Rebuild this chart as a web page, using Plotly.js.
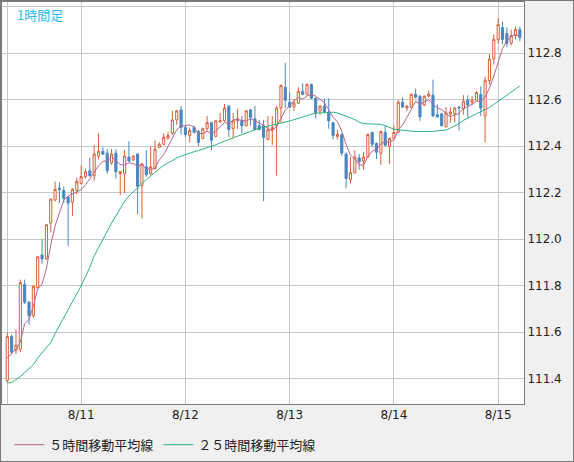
<!DOCTYPE html>
<html>
<head>
<meta charset="utf-8">
<script src="https://cdn.plot.ly/plotly-3.0.1.min.js"></script>
<style>
html,body{margin:0;padding:0;background:#f0f0f0;}
#chart{width:572px;height:460px;border:1px solid #7a7a7a;}
</style>
</head>
<body>
<div id="chart"></div>
<script>
// hourly candles, index 0 = first bar of the week
const open = [111.392,111.581,111.522,111.527,111.805,111.729,111.671,111.792,111.932,111.915,
112.070,112.168,112.219,112.210,112.181,112.159,112.210,112.240,112.269,112.294,
112.273,112.357,112.378,112.370,112.328,112.370,112.282,112.282,112.353,112.341,
112.366,112.231,112.311,112.282,112.303,112.395,112.408,112.433,112.455,112.513,
112.556,112.480,112.446,112.480,112.463,112.433,112.475,112.501,112.442,112.505,
112.509,112.572,112.475,112.509,112.509,112.488,112.556,112.518,112.488,112.488,
112.429,112.471,112.488,112.564,112.653,112.589,112.568,112.585,112.636,112.623,
112.665,112.606,112.551,112.572,112.547,112.501,112.442,112.450,112.366,112.256,
112.286,112.349,112.336,112.353,112.459,112.412,112.370,112.459,112.400,112.433,
112.459,112.589,112.564,112.568,112.623,112.615,112.577,112.615,112.619,112.535,
112.539,112.484,112.539,112.539,112.568,112.560,112.598,112.589,112.598,112.623,
112.530,112.682,112.775,112.859,112.910,112.885,112.842,112.876,112.901];
const high = [111.598,111.590,111.611,111.826,111.826,111.733,111.801,111.928,111.999,112.066,
112.176,112.248,112.244,112.227,112.185,112.219,112.265,112.316,112.303,112.349,
112.404,112.455,112.395,112.387,112.387,112.387,112.294,112.383,112.421,112.362,
112.370,112.328,112.383,112.400,112.425,112.416,112.455,112.463,112.552,112.556,
112.573,112.488,112.480,112.488,112.471,112.480,112.530,112.505,112.513,112.543,
112.581,112.577,112.543,112.560,112.530,112.556,112.560,112.573,112.513,112.513,
112.530,112.530,112.573,112.665,112.758,112.631,112.602,112.653,112.670,112.670,
112.670,112.610,112.577,112.606,112.606,112.505,112.471,112.455,112.374,112.353,
112.383,112.366,112.374,112.455,112.463,112.416,112.467,112.488,112.438,112.488,
112.598,112.610,112.577,112.627,112.648,112.619,112.619,112.640,112.686,112.581,
112.543,112.568,112.568,112.568,112.572,112.619,112.619,112.615,112.636,112.657,
112.699,112.796,112.880,112.952,112.935,112.910,112.901,112.914,112.914];
const low = [111.383,111.506,111.506,111.514,111.721,111.632,111.662,111.788,111.894,111.911,
112.028,112.163,112.155,112.155,111.970,112.100,112.193,112.235,112.261,112.269,
112.252,112.345,112.362,112.282,112.320,112.261,112.189,112.198,112.332,112.336,
112.108,112.088,112.269,112.277,112.299,112.391,112.404,112.429,112.450,112.492,
112.450,112.438,112.416,112.455,112.400,112.429,112.467,112.383,112.438,112.501,
112.505,112.438,112.433,112.475,112.455,112.484,112.488,112.467,112.467,112.163,
112.425,112.404,112.273,112.501,112.564,112.564,112.551,112.581,112.619,112.619,
112.602,112.518,112.535,112.543,112.475,112.429,112.429,112.357,112.218,112.240,
112.282,112.299,112.299,112.349,112.395,112.345,112.320,112.400,112.324,112.429,
112.455,112.564,112.551,112.564,112.606,112.509,112.572,112.610,112.526,112.522,
112.484,112.480,112.501,112.501,112.467,112.535,112.522,112.577,112.594,112.530,
112.416,112.665,112.750,112.842,112.838,112.826,112.834,112.859,112.851];
const close = [111.581,111.514,111.544,111.813,111.729,111.671,111.797,111.924,111.915,112.062,
112.172,112.214,112.214,112.176,112.155,112.214,112.248,112.269,112.290,112.273,
112.366,112.378,112.366,112.294,112.366,112.290,112.290,112.357,112.336,112.357,
112.227,112.324,112.277,112.311,112.387,112.408,112.438,112.446,112.513,112.552,
112.480,112.450,112.467,112.459,112.416,112.475,112.501,112.425,112.509,112.509,
112.564,112.471,112.509,112.518,112.488,112.552,112.522,112.471,112.471,112.438,
112.471,112.480,112.564,112.661,112.598,112.568,112.585,112.636,112.623,112.665,
112.606,112.543,112.572,112.547,112.509,112.446,112.450,112.370,112.261,112.286,
112.353,112.332,112.353,112.450,112.408,112.374,112.463,112.404,112.433,112.459,
112.589,112.568,112.572,112.623,112.610,112.526,112.615,112.623,112.530,112.526,
112.488,112.543,112.547,112.564,112.564,112.594,112.577,112.598,112.631,112.564,
112.682,112.775,112.859,112.923,112.859,112.842,112.876,112.901,112.868];
const ma5 = [111.489,111.506,111.527,111.556,111.636,111.655,111.711,111.786,111.807,111.873,
111.974,112.057,112.115,112.168,112.186,112.195,112.202,112.212,112.235,112.259,
112.289,112.315,112.335,112.336,112.354,112.339,112.321,112.319,112.328,112.326,
112.314,112.320,112.304,112.299,112.305,112.341,112.364,112.398,112.438,112.471,
112.486,112.488,112.492,112.481,112.455,112.454,112.464,112.455,112.465,112.484,
112.502,112.496,112.513,112.514,112.510,112.508,112.518,112.510,112.501,112.491,
112.475,112.466,112.485,112.523,112.555,112.574,112.595,112.610,112.602,112.616,
112.623,112.615,112.602,112.587,112.556,112.524,112.505,112.464,112.407,112.362,
112.344,112.320,112.317,112.355,112.379,112.384,112.410,112.420,112.417,112.427,
112.470,112.491,112.524,112.562,112.593,112.580,112.589,112.600,112.581,112.564,
112.557,112.542,112.527,112.534,112.541,112.562,112.569,112.579,112.593,112.593,
112.611,112.650,112.702,112.761,112.820,112.852,112.872,112.880,112.869];
const ma25 = [111.382,111.383,111.396,111.409,111.426,111.445,111.460,111.489,111.512,111.533,
111.556,111.594,111.628,111.660,111.696,111.731,111.767,111.799,111.839,111.879,
111.928,111.965,112.001,112.037,112.069,112.100,112.132,112.163,112.185,112.204,
112.223,112.240,112.256,112.273,112.288,112.303,112.317,112.328,112.341,112.349,
112.357,112.364,112.372,112.376,112.381,112.387,112.391,112.398,112.406,112.414,
112.423,112.429,112.436,112.442,112.450,112.457,112.463,112.471,112.478,112.482,
112.486,112.490,112.495,112.497,112.503,112.508,112.514,112.520,112.525,112.530,
112.537,112.542,112.543,112.545,112.546,112.546,112.543,112.537,112.528,112.522,
112.514,112.503,112.497,112.495,112.495,112.495,112.494,112.488,112.480,112.473,
112.471,112.468,112.466,112.464,112.463,112.462,112.462,112.463,112.464,112.465,
112.466,112.469,112.478,112.486,112.497,112.511,112.522,112.530,112.539,112.547,
112.556,112.566,112.579,112.594,112.606,112.619,112.634,112.646,112.659];

const dayTicks = [0, 17, 41, 65, 89, 113];
const dayLabels = ['', '8/11', '8/12', '8/13', '8/14', '8/15'];
const priceTicks = [111.4, 111.6, 111.8, 112.0, 112.2, 112.4, 112.6, 112.8, 113.0];
const priceLabels = ['111.4', '111.6', '111.8', '112.0', '112.2', '112.4', '112.6', '112.8', ''];
const seriesNames = ['５時間移動平均線', '２５時間移動平均線'];

const idx = open.map((_, i) => i);

const tickFont = {family: 'DejaVu Sans, sans-serif', size: 12, color: '#222222'};

const data = [
  {
    type: 'candlestick', x: idx, open: open, high: high, low: low, close: close,
    increasing: {line: {color: '#d9603b', width: 1}, fillcolor: '#ffffff'},
    decreasing: {line: {color: '#4a87c0', width: 1}, fillcolor: '#4a87c0'},
    whiskerwidth: 0, showlegend: false, hoverinfo: 'skip'
  },
  {
    type: 'scatter', mode: 'lines', x: idx, y: ma5, name: seriesNames[0],
    line: {color: '#b8648f', width: 1}, hoverinfo: 'skip'
  },
  {
    type: 'scatter', mode: 'lines', x: idx, y: ma25, name: seriesNames[1],
    line: {color: '#2fb57a', width: 1}, hoverinfo: 'skip'
  }
];

const layout = {
  width: 572, height: 460,
  margin: {l: 1, r: 49, t: 1, b: 49},
  paper_bgcolor: '#f0f0f0', plot_bgcolor: '#ffffff',
  showlegend: true, hovermode: false, dragmode: false,
  legend: {
    orientation: 'h', x: 0.014, xanchor: 'left', y: -0.064, yanchor: 'top',
    font: {family: 'Noto Sans CJK JP, sans-serif', size: 13, color: '#222222'},
    bgcolor: 'rgba(0,0,0,0)', traceorder: 'normal'
  },
  xaxis: {
    range: [-1.22, 118.95], tickvals: dayTicks, ticktext: dayLabels,
    showgrid: true, gridcolor: '#c8c8c8', gridwidth: 1, zeroline: false,
    showline: true, mirror: true, linecolor: '#7a7a7a', linewidth: 1,
    ticks: '', tickfont: tickFont, rangeslider: {visible: false}, fixedrange: true
  },
  yaxis: {
    side: 'right', range: [111.291, 113.020], tickvals: priceTicks, ticktext: priceLabels,
    showgrid: true, gridcolor: '#c8c8c8', gridwidth: 1, zeroline: false,
    showline: true, mirror: true, linecolor: '#7a7a7a', linewidth: 1,
    ticks: '', tickfont: tickFont, fixedrange: true
  },
  annotations: [{
    text: '1時間足', xref: 'paper', yref: 'paper', x: 0.025, y: 0.997,
    xanchor: 'left', yanchor: 'top', showarrow: false,
    font: {family: 'Noto Sans CJK JP, sans-serif', size: 13, color: '#2fb9f0'}
  }]
};

Plotly.newPlot('chart', data, layout, {staticPlot: true, displayModeBar: false});
</script>
</body>
</html>
